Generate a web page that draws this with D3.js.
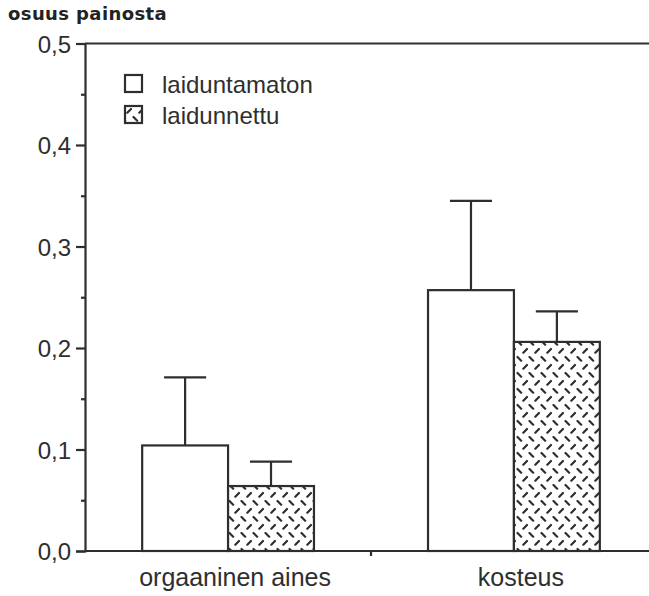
<!DOCTYPE html>
<html>
<head>
<meta charset="utf-8">
<script src="https://cdn.jsdelivr.net/npm/d3@7/dist/d3.min.js"></script>
<style>
  html, body { margin: 0; padding: 0; background: #fff; }
  svg { display: block; }
</style>
</head>
<body>
<svg id="chart" width="649" height="596"></svg>
<script>
// Data: share of weight, ungrazed vs grazed
const categories = ["orgaaninen aines", "kosteus"];
const seriesNames = ["laiduntamaton", "laidunnettu"];
const laiduntamaton = [0.104, 0.257];
const laidunnettu = [0.064, 0.206];
const errLaiduntamaton = [0.067, 0.088];
const errLaidunnettu = [0.024, 0.030];
const yTicks = [0, 0.1, 0.2, 0.3, 0.4, 0.5];
const yMinorTicks = [0.05, 0.15, 0.25, 0.35, 0.45];

const ink = "#2e2e2e";
const lw = 2.2;
const svg = d3.select("#chart");
const W = 649;

const x = d3.scaleBand().domain(categories).range([85, 657])
  .paddingInner(0.399).paddingOuter(0.2);
const xs = d3.scaleBand().domain(seriesNames).range([0, x.bandwidth()]).padding(0);
const y = d3.scaleLinear().domain([0, 0.5]).range([551, 43.5]);

// hatch pattern: short alternating diagonal dashes
const defs = svg.append("defs");
const pat = defs.append("pattern").attr("id", "hatch")
  .attr("patternUnits", "userSpaceOnUse").attr("width", 12).attr("height", 16)
  .attr("x", 0).attr("y", 3);
pat.append("rect").attr("width", 12).attr("height", 16).attr("fill", "#fff");
pat.append("line").attr("x1", 1.5).attr("y1", 2).attr("x2", 5.2).attr("y2", 5.7)
  .attr("stroke", ink).attr("stroke-width", 2.2).attr("stroke-linecap", "round");
pat.append("line").attr("x1", 7.3).attr("y1", 13.7).attr("x2", 11).attr("y2", 10)
  .attr("stroke", ink).attr("stroke-width", 2.2).attr("stroke-linecap", "round");

const fills = ["#fff", "url(#hatch)"];
const values = [laiduntamaton, laidunnettu];
const errs = [errLaiduntamaton, errLaidunnettu];

const rows = [];
categories.forEach((c, i) => {
  seriesNames.forEach((s, j) => {
    rows.push({ cat: c, ser: s, v: values[j][i], e: errs[j][i], j });
  });
});

// error bars (drawn first, bars cover the stem base)
const eb = svg.append("g").attr("stroke", ink).attr("stroke-width", lw);
rows.forEach(d => {
  const cx = x(d.cat) + xs(d.ser) + xs.bandwidth() / 2;
  const capW = xs.bandwidth() * 0.49;
  eb.append("line").attr("x1", cx).attr("x2", cx).attr("y1", y(d.v)).attr("y2", y(d.v + d.e));
  eb.append("line").attr("x1", cx - capW / 2).attr("x2", cx + capW / 2)
    .attr("y1", y(d.v + d.e)).attr("y2", y(d.v + d.e));
});

// bars
svg.append("g").selectAll("rect").data(rows).join("rect")
  .attr("x", d => x(d.cat) + xs(d.ser))
  .attr("y", d => y(d.v))
  .attr("width", xs.bandwidth())
  .attr("height", d => y(0) - y(d.v))
  .attr("fill", d => fills[d.j])
  .attr("stroke", ink).attr("stroke-width", lw);

// y axis
const yAxis = svg.append("g").attr("transform", "translate(85,0)")
  .call(d3.axisLeft(y).tickValues(yTicks).tickSize(9).tickPadding(5)
    .tickFormat(d => d3.format(".1f")(d).replace(".", ",")));
yAxis.select(".domain").attr("stroke", ink).attr("stroke-width", lw);
yAxis.selectAll(".tick line").attr("stroke", ink).attr("stroke-width", lw);
yAxis.selectAll(".tick text").attr("fill", ink)
  .style("font-family", "'Liberation Sans', Arial, sans-serif").style("font-size", "24px")
  .attr("dy", "0.36em");
const yMinor = svg.append("g").attr("transform", "translate(85,0)")
  .call(d3.axisLeft(y).tickValues(yMinorTicks).tickSize(4).tickFormat(""));
yMinor.select(".domain").remove();
yMinor.selectAll(".tick line").attr("stroke", ink).attr("stroke-width", lw);

// top frame line and x axis baseline
svg.append("line").attr("x1", 85).attr("x2", W).attr("y1", y(0.5)).attr("y2", y(0.5))
  .attr("stroke", ink).attr("stroke-width", lw);
svg.append("line").attr("x1", 85).attr("x2", W).attr("y1", y(0)).attr("y2", y(0))
  .attr("stroke", ink).attr("stroke-width", lw);

// separator tick between groups
const sepX = (x(categories[0]) + x.bandwidth() + x(categories[1])) / 2;
svg.append("line").attr("x1", sepX).attr("x2", sepX).attr("y1", y(0)).attr("y2", y(0) + 5)
  .attr("stroke", ink).attr("stroke-width", lw);

// category labels
svg.append("g").selectAll("text").data(categories).join("text")
  .attr("x", d => x(d) + x.bandwidth() / 2 + 7)
  .attr("y", 586)
  .attr("text-anchor", "middle")
  .attr("fill", ink)
  .style("font-family", "'Liberation Sans', Arial, sans-serif").style("font-size", "25px")
  .text(d => d);

// legend
const lg = svg.append("g");
seriesNames.forEach((s, j) => {
  lg.append("rect").attr("x", 125).attr("y", 75 + j * 31).attr("width", 17).attr("height", 17)
    .attr("fill", fills[j]).attr("stroke", ink).attr("stroke-width", lw);
  lg.append("text").attr("x", 162).attr("y", 93 + j * 30.5).attr("fill", ink)
    .style("font-family", "'Liberation Sans', Arial, sans-serif").style("font-size", "24px")
    .text(s);
});

// y axis title
svg.append("text").attr("x", 8).attr("y", 20).attr("fill", "#222")
  .style("font-family", "'DejaVu Sans', sans-serif").style("font-weight", "bold")
  .style("font-size", "18px").style("letter-spacing", "0.4px")
  .text("osuus painosta");
</script>
</body>
</html>
